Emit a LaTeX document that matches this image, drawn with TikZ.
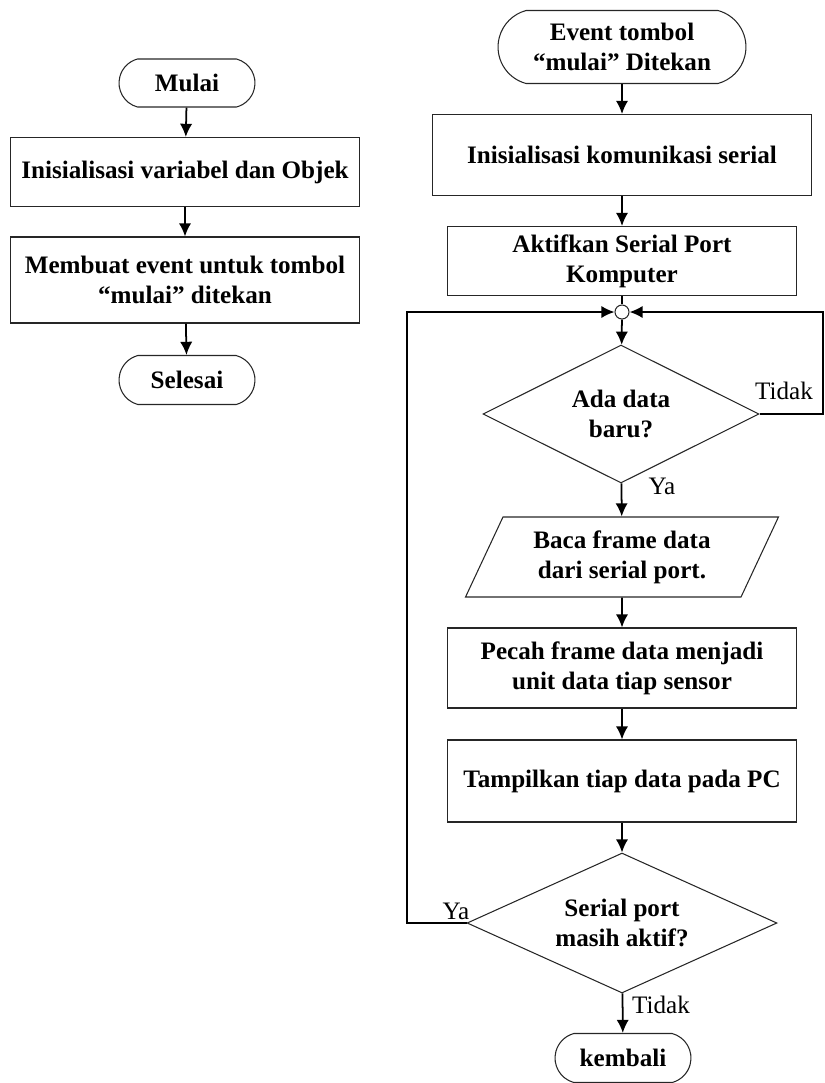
\documentclass[tikz,border=0pt]{standalone}
\usepackage{fontspec}
\setmainfont{Liberation Serif}
\usetikzlibrary{shapes.geometric,shapes.misc,arrows.meta}

\tikzset{
  base/.style={draw=black!85, line width=0.6pt, align=center,
    font=\bfseries\fontsize{14.3}{17}\selectfont, inner sep=2pt},
  term/.style={base, rounded rectangle, rounded rectangle arc length=150},
  proc/.style={base, rectangle},
  cond/.style={base, diamond, shape aspect=2, inner sep=0pt},
  io/.style={base, trapezium, trapezium left angle=58, trapezium right angle=122,
    trapezium stretches body},
  flow/.style={line width=1pt, -{Latex[length=7.5pt,width=7pt]}},
  line/.style={line width=1pt},
  lbl/.style={font=\fontsize{14.3}{17}\selectfont, inner sep=1pt},
}

\begin{document}
\begin{tikzpicture}[x=0.02cm,y=-0.02cm]
  \useasboundingbox (0,0) rectangle (825,1083);

  % kiri
  \node[term, minimum width=2.86cm, minimum height=0.96cm] (mulai) at (187,83) {Mulai};
  \node[proc, minimum width=7cm, minimum height=1.38cm] (initvar) at (185,172) {Inisialisasi variabel dan Objek};
  \node[proc, minimum width=7cm, minimum height=1.72cm] (mkevent) at (185,280) {Membuat event untuk tombol\\``mulai'' ditekan};
  \node[term, minimum width=2.86cm, minimum height=0.98cm] (selesai) at (187,380) {Selesai};

  \draw[flow] (mulai) -- (initvar);
  \draw[flow] (initvar) -- (mkevent);
  \draw[flow] (mkevent) -- (selesai);

  % kanan
  \node[term, minimum width=5.1cm, minimum height=1.46cm] (event) at (622,47) {Event tombol\\``mulai'' Ditekan};
  \node[proc, minimum width=7.6cm, minimum height=1.62cm] (initcom) at (622,155) {Inisialisasi komunikasi serial};
  \node[proc, minimum width=6.98cm, minimum height=1.38cm] (aktif) at (622,261) {Aktifkan Serial Port\\Komputer};
  \node[circle, draw=black!85, line width=0.6pt, minimum size=0.28cm, inner sep=0pt] (junc) at (622,312) {};
  \node[cond, minimum width=5.52cm, minimum height=2.76cm] (cekdata) at (621,414) {Ada data\\baru?};
  \node[io, minimum width=6.26cm, minimum height=1.6cm] (baca) at (622,557) {Baca frame data\\dari serial port.};
  \node[proc, minimum width=6.98cm, minimum height=1.6cm] (pecah) at (622,668) {Pecah frame data menjadi\\unit data tiap sensor};
  \node[proc, minimum width=6.98cm, minimum height=1.64cm] (tampil) at (622,781) {Tampilkan tiap data pada PC};
  \node[cond, minimum width=6.2cm, minimum height=2.8cm] (cekport) at (622,923) {Serial port\\masih aktif?};
  \node[term, minimum width=2.86cm, minimum height=0.98cm] (kembali) at (623,1058) {kembali};

  \coordinate (kiri) at (407,923);
  \coordinate (kanan) at (823,414);

  \draw[flow] (event) -- (initcom);
  \draw[flow] (initcom) -- (aktif);
  \draw[line] (aktif) -- (junc);
  \draw[flow] (junc) -- (cekdata);
  \draw[flow] (cekdata) -- (baca);
  \draw[flow] (baca) -- (pecah);
  \draw[flow] (pecah) -- (tampil);
  \draw[flow] (tampil) -- (cekport);
  \draw[flow] (cekport) -- (kembali);
  \draw[flow] (cekport.west) -- (kiri) |- (junc.west);
  \draw[flow] (cekdata.east) -- (kanan) |- (junc.east);

  \node[lbl] (tidak1) at (784,391) {Tidak};
  \node[lbl] (ya1) at (662,486) {Ya};
  \node[lbl] (ya2) at (456,911) {Ya};
  \node[lbl, anchor=west] (tidak2) at (630,1005) {Tidak};
\end{tikzpicture}
\end{document}
